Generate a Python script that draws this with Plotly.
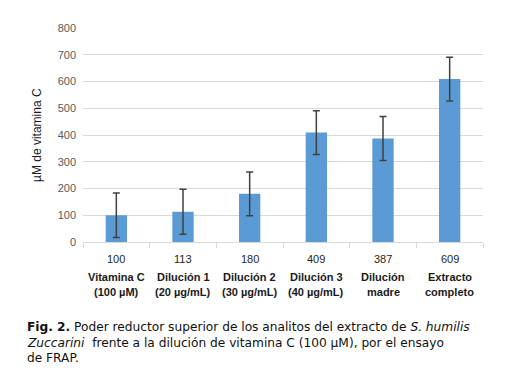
import plotly.graph_objects as go

categories = ["Vitamina C", "Dilución 1", "Dilución 2", "Dilución 3", "Dilución madre", "Extracto completo"]
values = [100, 113, 180, 409, 387, 609]
errors = [83, 84, 82, 82, 82, 82]
label_line1 = ["Vitamina C", "Dilución 1", "Dilución 2", "Dilución 3", "Dilución", "Extracto"]
label_line2 = ["(100 µM)", "(20 µg/mL)", "(30 µg/mL)", "(40 µg/mL)", "madre", "completo"]
y_ticks = [0, 100, 200, 300, 400, 500, 600, 700, 800]

fig = go.Figure()
fig.add_trace(go.Bar(
    x=categories, y=values, width=0.32,
    marker=dict(color="#5B9BD5", line=dict(width=0)),
    error_y=dict(type="data", array=errors, visible=True, color="#404040", thickness=1.5, width=3.5),
))

ann = []
for c, v, l1, l2 in zip(categories, values, label_line1, label_line2):
    ann.append(dict(x=c, y=0, xref="x", yref="paper", text=str(v), showarrow=False,
                    yanchor="middle", yshift=-17, font=dict(family="Liberation Sans", size=11, color="#262626")))
    ann.append(dict(x=c, y=0, xref="x", yref="paper", text="<b>%s</b>" % l1, showarrow=False,
                    yanchor="middle", yshift=-35, font=dict(family="Liberation Sans", size=11, color="#1a1a1a")))
    ann.append(dict(x=c, y=0, xref="x", yref="paper", text="<b>%s</b>" % l2, showarrow=False,
                    yanchor="middle", yshift=-50, font=dict(family="Liberation Sans", size=11, color="#1a1a1a")))

ann.append(dict(x=0, y=0.5, xref="paper", yref="paper", text="µM de vitamina C", textangle=-90,
                showarrow=False, xanchor="center", yanchor="middle", xshift=-46,
                font=dict(family="Liberation Sans", size=12, color="#1a1a1a")))

caption = [
    "<b>Fig. 2.</b> Poder reductor superior de los analitos del extracto de <i>S. humilis</i>",
    "<i>Zuccarini</i>  frente a la dilución de vitamina C (100 µM), por el ensayo",
    "de FRAP.",
]
for i, line in enumerate(caption):
    ann.append(dict(x=0, y=0, xref="paper", yref="paper", text=line, showarrow=False,
                    xanchor="left", yanchor="middle", xshift=-58, yshift=-85 - 15.5 * i,
                    font=dict(family="DejaVu Sans", size=12.2, color="#111111")))

fig.update_layout(
    width=517, height=365,
    margin=dict(l=75, r=42, t=20, b=131),
    paper_bgcolor="white", plot_bgcolor="white",
    showlegend=False,
    annotations=ann,
    xaxis=dict(showticklabels=False, ticks="outside", tickson="boundaries", ticklen=5,
               tickcolor="#D9D9D9", showline=True, linecolor="#D9D9D9", linewidth=1,
               showgrid=False, zeroline=False),
    yaxis=dict(range=[0, 800], tickvals=y_ticks, showgrid=True, gridcolor="#D9D9D9",
               gridwidth=1, zeroline=False, showline=False,
               tickfont=dict(family="Liberation Sans", size=11, color="#595959"),
               ticklabelstandoff=6),
)
fig.write_html("out.html")
